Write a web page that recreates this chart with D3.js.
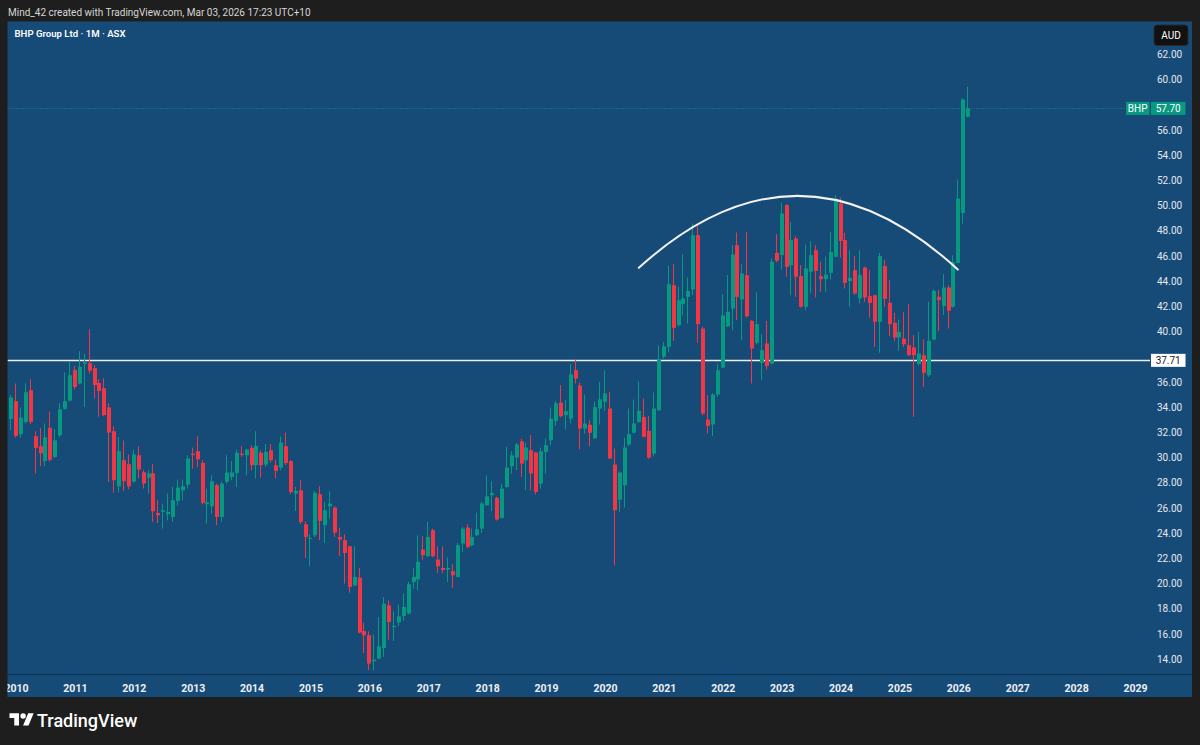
<!DOCTYPE html>
<html><head><meta charset="utf-8">
<script src="https://cdn.jsdelivr.net/npm/d3@7"></script>
<style>html,body{margin:0;padding:0;background:#1e1e1e;}svg{display:block;}</style>
</head><body>
<svg id="c" width="1200" height="745"></svg>
<script>
// Monthly candles BHP (ASX), first bar = Dec 2009, then Jan..Dec per row
const firstMonthIndex = -1; // months since Jan 2010
const opens = [33.06,
 34.47,31.87,32.83,35.34,31.69,30.90,29.73,32.35,30.05,31.76,33.86,34.52,
 36.93,35.87,37.43,37.48,37.09,35.92,35.50,33.97,32.09,27.72,29.79,29.47,
 28.10,30.18,28.83,28.41,28.75,25.60,25.69,25.50,25.29,26.56,27.40,27.85,
 30.30,30.50,29.57,26.30,26.13,27.80,25.29,28.07,28.46,28.78,30.30,30.18,
 30.76,29.39,30.39,29.44,30.58,29.39,29.20,30.90,29.71,27.14,27.40,24.71,
 23.55,23.83,27.09,24.63,26.13,26.03,23.70,23.44,22.96,19.86,20.47,16.24,
 15.90,13.83,14.05,14.89,18.28,16.55,16.93,17.43,17.62,20.13,20.34,22.70,
 22.17,24.23,21.90,21.24,21.11,20.98,20.53,23.17,24.44,23.04,23.83,24.36,
 26.21,27.01,26.80,25.21,27.67,29.31,30.00,31.29,29.79,30.58,30.40,27.93,
 30.45,31.37,32.91,34.36,33.36,33.09,36.93,35.71,32.30,32.60,31.51,33.89,
 34.42,33.89,29.44,26.66,27.80,31.03,31.98,32.83,33.22,32.11,30.31,33.75,
 37.99,38.78,43.67,40.50,42.17,42.75,43.33,47.64,40.23,33.01,32.62,35.00,
 37.14,40.42,41.82,46.85,42.54,44.47,40.84,39.10,37.51,39.05,37.46,46.24,
 46.06,50.03,45.26,47.38,44.39,41.96,44.74,46.45,44.39,44.15,44.66,45.93,
 50.16,47.25,44.00,44.87,42.62,45.08,42.80,42.88,40.77,45.19,42.27,40.69,
 39.52,39.44,38.91,38.73,37.41,38.12,36.53,39.36,42.75,42.01,43.49,41.95,
 45.44,49.41,57.03];
const highs = [34.97,
 35.87,33.97,35.87,36.21,32.09,32.35,32.70,33.65,32.25,34.29,36.75,37.59,
 37.25,38.44,38.20,40.18,37.33,36.21,36.29,34.31,32.48,31.63,31.35,30.24,
 30.63,30.90,28.99,28.99,29.47,26.61,26.35,27.14,27.67,28.25,28.25,30.18,
 30.79,31.69,29.79,27.54,28.59,27.93,28.10,30.18,29.73,30.63,30.90,30.70,
 30.98,32.09,30.58,31.06,31.06,29.84,31.69,31.98,29.80,27.67,28.20,24.94,
 23.91,27.35,27.72,26.48,27.32,26.13,24.44,23.91,23.00,22.96,21.24,16.90,
 16.21,15.95,17.35,18.94,18.67,17.80,18.33,19.20,20.13,21.21,23.83,23.75,
 24.89,24.36,22.96,22.96,22.06,21.53,23.23,24.50,24.71,24.36,25.63,26.48,
 28.60,28.12,26.90,27.88,30.84,30.50,31.16,31.48,31.16,31.77,30.45,30.79,
 31.51,33.97,34.50,35.74,34.55,37.41,37.78,35.95,35.00,32.96,34.45,36.00,
 36.93,35.21,30.71,28.90,31.58,33.89,34.60,36.05,34.68,33.28,35.16,38.91,
 39.18,45.21,45.34,43.54,46.13,44.28,48.57,48.44,40.37,34.94,35.10,37.46,
 42.96,44.47,46.85,47.85,45.34,47.91,40.90,43.10,39.79,40.85,45.79,47.72,
 50.21,50.10,48.70,47.57,45.26,46.90,47.17,46.85,45.53,45.93,47.91,50.82,
 50.63,47.83,46.45,45.98,46.45,45.15,44.87,42.90,46.24,45.71,44.07,41.48,
 40.95,41.56,42.17,39.71,39.97,39.36,42.35,43.33,43.28,44.55,43.67,46.05,
 52.06,58.50,59.41];
const lows = [32.17,
 31.60,31.59,32.70,32.64,28.73,29.33,29.33,29.70,29.95,31.63,33.80,34.45,
 35.40,35.80,34.02,36.67,34.68,33.25,33.30,28.06,27.22,27.22,27.35,27.48,
 28.00,28.36,27.54,27.14,24.90,24.80,24.36,25.02,24.89,26.21,26.61,27.54,
 29.12,29.26,26.30,24.76,25.55,24.63,24.89,27.93,28.20,27.67,30.05,28.59,
 28.99,28.33,28.41,29.26,29.60,28.33,28.99,29.40,27.10,25.76,24.71,22.03,
 21.40,23.70,23.44,23.23,25.16,23.70,22.19,20.00,19.28,19.80,16.05,14.49,
 13.12,13.12,14.00,14.18,15.55,15.45,16.61,17.03,17.55,19.60,19.47,21.90,
 22.10,22.10,20.84,20.84,20.13,19.65,20.50,22.51,22.80,22.95,23.80,24.02,
 26.20,25.76,25.00,25.15,27.60,28.73,28.99,28.46,27.41,27.41,27.06,27.54,
 28.73,30.98,32.51,33.20,32.22,32.70,35.87,30.66,31.90,30.90,31.50,32.62,
 33.70,29.90,21.45,25.69,26.03,30.90,31.90,32.75,31.60,29.90,30.10,33.70,
 37.85,38.38,39.26,40.40,41.29,40.63,42.88,39.10,33.35,31.90,31.69,34.80,
 37.10,40.35,40.10,40.90,39.31,41.10,35.87,39.00,36.14,36.98,37.40,45.50,
 44.92,44.34,42.88,42.75,41.90,41.69,43.02,42.70,43.15,43.15,44.13,45.90,
 45.87,43.41,41.96,42.90,42.22,42.35,41.11,38.78,38.31,41.96,39.63,39.23,
 38.46,38.78,38.05,33.23,37.30,35.61,36.40,39.30,40.05,41.30,40.23,41.90,
 45.40,48.56,57.00];
const closes = [34.76,
 31.71,33.17,35.18,32.83,30.76,30.34,31.61,29.81,31.37,33.83,34.47,36.53,
 35.60,37.19,37.54,36.90,35.76,35.29,33.36,31.98,28.20,30.50,28.12,27.72,
 30.24,29.05,27.94,28.73,25.74,25.42,25.82,25.69,26.61,27.62,27.72,29.92,
 30.20,29.86,26.40,26.45,28.12,25.29,27.93,28.81,28.81,30.37,30.20,30.63,
 29.39,30.92,29.39,30.45,29.79,28.94,31.19,29.57,27.27,27.35,24.89,23.70,
 23.62,27.19,24.97,25.82,26.35,24.04,23.49,22.43,19.73,20.53,16.11,15.90,
 13.65,13.97,15.02,18.41,16.95,16.65,17.40,18.15,19.94,20.53,21.72,22.25,
 23.70,22.17,21.37,21.08,21.24,20.66,23.04,24.36,22.91,23.70,24.31,26.35,
 26.93,27.19,25.08,27.54,29.20,30.18,31.03,29.52,30.79,28.73,27.27,30.50,
 30.98,33.09,34.29,33.28,33.68,36.59,36.27,32.30,32.70,31.97,34.00,34.62,
 35.08,29.92,25.82,28.81,30.79,31.85,32.70,33.70,31.64,29.99,33.89,37.77,
 38.83,43.75,40.29,42.48,42.62,43.22,47.64,40.58,33.49,32.51,35.00,36.93,
 41.29,41.56,46.11,42.75,44.60,41.21,38.65,40.58,38.52,37.27,45.53,45.61,
 49.36,45.13,47.25,44.34,41.96,45.00,46.06,44.81,44.15,44.52,46.32,50.42,
 47.19,43.86,44.26,43.02,44.47,42.70,42.27,40.77,45.98,42.59,40.58,39.52,
 39.97,38.99,38.12,38.12,38.25,36.72,39.26,43.23,42.49,43.49,41.64,45.52,
 50.55,58.41,57.70];

const yearLabels = ["2010","2011","2012","2013","2014","2015","2016","2017","2018","2019",
  "2020","2021","2022","2023","2024","2025","2026","2027","2028","2029"];
// 38.00 and 58.00 sit under the 37.71 / 57.70 price tags, as in TradingView
const priceTicks = [14,16,18,20,22,24,26,28,30,32,34,36,40,42,44,46,48,50,52,54,56,60,62];
const lastPrice = 57.70;
const levelPrice = 37.71;
// arc drawing: [month index since Jan 2010, price]
const arcStart = [126.9, 45.05];
const arcEnd = [191.9, 44.92];
const arcTopPrice = 50.76;

const W = 1200, H = 745;
const panel = {x0: 7.5, y0: 21.5, x1: 1192, y1: 697};
const plotRight = 1150, timeAxisY = 674;
const GREEN = "#089981", RED = "#f23645";
const BG = "#164b78";
const FONT = "Roboto, 'Liberation Sans', sans-serif";

const svg = d3.select("#c");
svg.append("rect").attr("width", W).attr("height", H).attr("fill", "#1e1e1e");
svg.append("rect").attr("x", panel.x0).attr("y", panel.y0)
  .attr("width", panel.x1 - panel.x0).attr("height", panel.y1 - panel.y0).attr("fill", BG);

const x = d3.scaleLinear().domain([0, 228]).range([16, 1135]);
const y = d3.scaleLinear().domain([14, 62]).range([659.2, 54.2]);

const defs = svg.append("defs");
defs.append("clipPath").attr("id", "plot").append("rect")
  .attr("x", panel.x0).attr("y", panel.y0).attr("width", plotRight - panel.x0).attr("height", timeAxisY - panel.y0);
defs.append("clipPath").attr("id", "panel").append("rect")
  .attr("x", panel.x0).attr("y", panel.y0).attr("width", panel.x1 - panel.x0).attr("height", panel.y1 - panel.y0);

const plot = svg.append("g").attr("clip-path", "url(#plot)");

const bars = opens.map((o, k) => ({m: firstMonthIndex + k, o, h: highs[k], l: lows[k], c: closes[k]}));

// horizontal level line
plot.append("line").attr("x1", panel.x0).attr("x2", plotRight)
  .attr("y1", Math.round(y(levelPrice)) + 0.5).attr("y2", Math.round(y(levelPrice)) + 0.5)
  .attr("stroke", "#f0f0f0").attr("stroke-width", 1.4);

// last price dotted line
plot.append("line").attr("x1", panel.x0).attr("x2", 1126)
  .attr("y1", Math.round(y(lastPrice)) + 0.5).attr("y2", Math.round(y(lastPrice)) + 0.5)
  .attr("stroke", GREEN).attr("stroke-width", 1).attr("stroke-dasharray", "1,2");

const candles = plot.append("g").selectAll("g").data(bars).join("g");
candles.append("rect")
  .attr("x", d => Math.round(x(d.m)) - 1)
  .attr("width", 1)
  .attr("y", d => y(d.h))
  .attr("height", d => Math.max(1, y(d.l) - y(d.h)))
  .attr("fill", d => d.c >= d.o ? GREEN : RED);
candles.append("rect")
  .attr("x", d => Math.round(x(d.m)) - 2)
  .attr("width", 4)
  .attr("y", d => y(Math.max(d.o, d.c)))
  .attr("height", d => Math.max(1, Math.abs(y(d.o) - y(d.c))))
  .attr("fill", d => d.c >= d.o ? GREEN : RED);

// arc
const p0 = [x(arcStart[0]), y(arcStart[1])];
const p2 = [x(arcEnd[0]), y(arcEnd[1])];
const yTop = y(arcTopPrice);
const ctrl = [(p0[0] + p2[0]) / 2, 2 * yTop - (p0[1] + p2[1]) / 2];
const ap = d3.path();
ap.moveTo(p0[0], p0[1]);
ap.quadraticCurveTo(ctrl[0], ctrl[1], p2[0], p2[1]);
plot.append("path").attr("d", ap.toString()).attr("fill", "none")
  .attr("stroke", "#f2f2f2").attr("stroke-width", 2).attr("stroke-linecap", "round");

// time axis separator
svg.append("line").attr("x1", panel.x0).attr("x2", panel.x1)
  .attr("y1", timeAxisY + 0.5).attr("y2", timeAxisY + 0.5).attr("stroke", "#0e3454").attr("stroke-width", 1);

// time axis
const tAxis = svg.append("g").attr("clip-path", "url(#panel)").append("g")
  .attr("transform", `translate(0,${timeAxisY})`)
  .call(d3.axisBottom(x).tickValues(yearLabels.map((s, i) => i * 12))
    .tickFormat((d, i) => yearLabels[i]).tickSize(0).tickPadding(11));
tAxis.select(".domain").remove();
tAxis.selectAll("text").attr("fill", "#eef0f4").style("font-family", FONT)
  .style("font-size", "10.5px").style("font-weight", "bold");

// price axis
const pAxis = svg.append("g").attr("transform", `translate(${plotRight},0)`)
  .call(d3.axisRight(y).tickValues(priceTicks).tickFormat(d3.format(".2f")).tickSize(0).tickPadding(7));
pAxis.select(".domain").remove();
pAxis.selectAll("text").attr("fill", "#e6e8ee").style("font-family", FONT).style("font-size", "10px");

// level label
const ly = y(levelPrice);
svg.append("rect").attr("x", 1151).attr("y", ly - 6.5).attr("width", 34.5).attr("height", 13).attr("fill", "#ffffff");
svg.append("text").attr("x", 1168.2).attr("y", ly + 3.8).attr("text-anchor", "middle")
  .attr("fill", "#131722").style("font-family", FONT).style("font-size", "10px").text(levelPrice.toFixed(2));

// last price labels
const lpy = y(lastPrice);
svg.append("rect").attr("x", 1126).attr("y", lpy - 6.5).attr("width", 23.5).attr("height", 13).attr("fill", GREEN);
svg.append("text").attr("x", 1137.7).attr("y", lpy + 3.8).attr("text-anchor", "middle")
  .attr("fill", "#ffffff").style("font-family", FONT).style("font-size", "10px").text("BHP");
svg.append("rect").attr("x", 1151).attr("y", lpy - 6.5).attr("width", 34.5).attr("height", 13).attr("fill", GREEN);
svg.append("text").attr("x", 1168.2).attr("y", lpy + 3.8).attr("text-anchor", "middle")
  .attr("fill", "#ffffff").style("font-family", FONT).style("font-size", "10px").text(lastPrice.toFixed(2));

// currency box
svg.append("rect").attr("x", 1154).attr("y", 25).attr("width", 34).attr("height", 20.5).attr("rx", 3)
  .attr("fill", "#111111").attr("stroke", "#2a2a2a");
svg.append("text").attr("x", 1171).attr("y", 39).attr("text-anchor", "middle")
  .attr("fill", "#ffffff").style("font-family", FONT).style("font-size", "10px").text("AUD");

// header texts
svg.append("text").attr("x", 8).attr("y", 16).attr("fill", "#d6d6d6")
  .style("font-family", FONT).style("font-size", "10px")
  .text("Mind_42 created with TradingView.com, Mar 03, 2026 17:23 UTC+10");
svg.append("text").attr("x", 14.5).attr("y", 37).attr("fill", "#ffffff")
  .style("font-family", FONT).style("font-size", "9.6px").style("font-weight", "600")
  .text("BHP Group Ltd · 1M · ASX");

// TradingView logo
const logo = svg.append("g").attr("transform", "translate(9.5,710.5) scale(0.68)").attr("fill", "#ffffff");
logo.append("path").attr("d", "M14 22H7V11H0V4h14v18zM28 22h-8l7.5-18h8L28 22z");
logo.append("circle").attr("cx", 20).attr("cy", 8).attr("r", 4);
svg.append("text").attr("x", 37).attr("y", 726.5).attr("fill", "#ffffff")
  .style("font-family", FONT).style("font-size", "18px").style("font-weight", "500").text("TradingView");
</script>
</body></html>
